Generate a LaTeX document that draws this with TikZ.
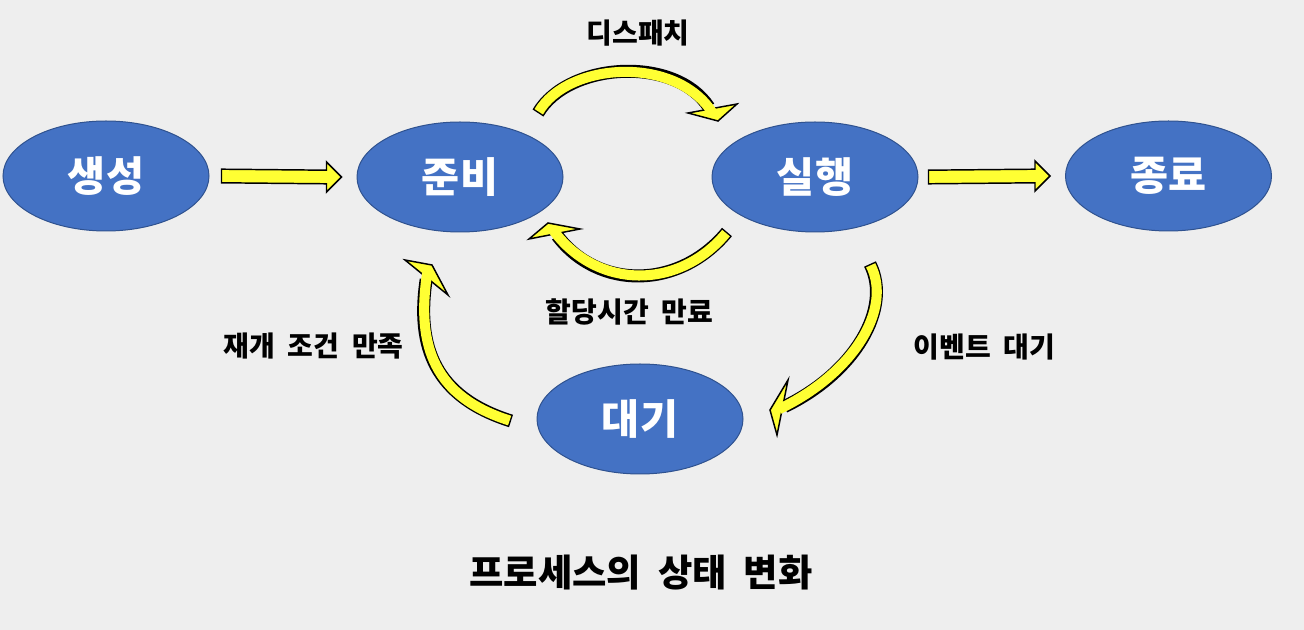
\documentclass[tikz,border=0pt]{standalone}
\usepackage{fontspec}
\setmainfont{Noto Sans CJK KR}[WordSpace=2]
\usetikzlibrary{shapes.geometric,calc}
\definecolor{bgc}{HTML}{EEEEEE}
\definecolor{ellfill}{HTML}{4472C4}
\definecolor{ellline}{HTML}{2F528F}
\definecolor{ayellow}{HTML}{FFFF33}
\newcommand{\mystraightarrow}[2]{%
  \filldraw[blockarrow] ($(#1)+(0,-6.8)$) -- ($(#2)+(-15,-6.8)$) -- ($(#2)+(-15,-15)$) -- (#2)
    -- ($(#2)+(-15,15)$) -- ($(#2)+(-15,6.8)$) -- ($(#1)+(0,6.8)$) -- cycle;}
\begin{document}
\begin{tikzpicture}[x=0.75pt,y=-0.75pt,
  state/.style={ellipse, fill=ellfill, draw=ellline, line width=0.75pt,
    minimum width=154.5pt, minimum height=82.5pt, inner sep=0pt, text=white,
    font=\fontsize{31}{36}\selectfont\bfseries},
  lbl/.style={inner sep=0pt, text=black, font=\fontsize{21}{25}\selectfont\bfseries},
  blockarrow/.style={fill=ayellow, draw=black, line width=1.1pt, line join=miter},
  shaftout/.style={draw=black, line width=9.75pt},
  shaftin/.style={draw=ayellow, line width=7.55pt},
]
\fill[bgc] (0,0) rectangle (1304,630);
\useasboundingbox (0,0) rectangle (1304,630);

% states
\node[state] (gen) at (106,176) {생성};
\node[state] (ready) at (460,177) {준비};
\node[state] (run) at (815,177) {실행};
\node[state] (term) at (1168.5,176) {종료};
\node[state] (wait) at (640,419) {대기};

% straight block arrows
\coordinate (a1s) at ($(gen.east)+(12,0)$);
\coordinate (a1e) at ($(ready.west)+(-15,0)$);
\coordinate (a2s) at ($(run.east)+(10,0)$);
\coordinate (a2e) at ($(term.west)+(-15,0)$);
\mystraightarrow{a1s}{a1e}
\mystraightarrow{a2s}{a2e}

% dispatch arrow (ready -> run)
\coordinate (d1s) at (538,113);
\coordinate (d1e) at (710,109);
\draw[shaftout, shorten >=1.5pt] (d1s) .. controls (568,62) and (675,55) .. (d1e);
\filldraw[blockarrow] (688,113) -- (718,121) -- (737,104) -- cycle;
\draw[shaftin, shorten <=1.1pt, shorten >=-3pt] (d1s) .. controls (568,62) and (675,55) .. (d1e);

% timeout arrow (run -> ready)
\coordinate (d2s) at (727,232);
\coordinate (d2e) at (556,234);
\draw[shaftout, shorten >=1.5pt] (d2s) .. controls (679,290) and (598,290) .. (d2e);
\filldraw[blockarrow] (529,239) -- (548,223) -- (580,229) -- cycle;
\draw[shaftin, shorten <=1.1pt, shorten >=-3pt] (d2s) .. controls (679,290) and (598,290) .. (d2e);

% event wait arrow (run -> wait)
\coordinate (d3s) at (870,264);
\coordinate (d3e) at (782.5,407.5);
\draw[shaftout, shorten >=1.5pt] (d3s) .. controls (892.5,308.5) and (854.5,373) .. (d3e);
\filldraw[blockarrow] (788,380) -- (770,410) -- (777,435) -- cycle;
\draw[shaftin, shorten <=1.1pt, shorten >=-3pt] (d3s) .. controls (892.5,308.5) and (854.5,373) .. (d3e);

% resume arrow (wait -> ready)
\coordinate (d4s) at (511,421);
\coordinate (d4e) at (426.5,277.5);
\draw[shaftout, shorten >=1.5pt] (d4s) .. controls (435,397) and (416,347) .. (d4e);
\filldraw[blockarrow] (405,260) -- (432,265) -- (448,295) -- cycle;
\draw[shaftin, shorten <=1.1pt, shorten >=-3pt] (d4s) .. controls (435,397) and (416,347) .. (d4e);

% labels
\node[lbl] (l1) at (638,33) {디스패치};
\node[lbl] (l2) at (629.5,311.5) {할당시간 만료};
\node[lbl] (l3) at (313.5,346) {재개 조건 만족};
\node[lbl] (l4) at (984.5,347.5) {이벤트 대기};
\node[inner sep=0pt, font=\fontsize{28}{34}\selectfont\bfseries] (title) at (641,572.5) {프로세스의 상태 변화};
\end{tikzpicture}
\end{document}
